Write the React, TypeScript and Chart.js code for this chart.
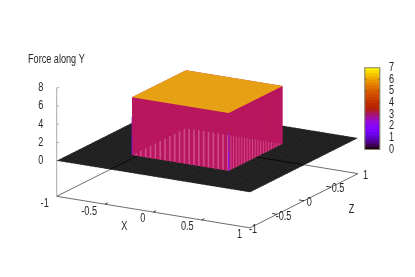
import React, { useEffect, useRef } from "react";
import { Chart, registerables } from "chart.js";

Chart.register(...registerables);

// ---- data ----
const chartTitle = "Force along Y";
const xTicks = [-1, -0.5, 0, 0.5, 1];
const zTicks = [-1, -0.5, 0, 0.5, 1];
const forceTicks = [0, 2, 4, 6, 8];
const colorTicks = [0, 1, 2, 3, 4, 5, 6, 7];
const floorForce = 0;
const plateauForce = 6.33;
const baseForce = -3.9;
const topForce = 8;
const domainMin = -1;
const domainMax = 1;
const plateauMin = -0.5;
const plateauMax = 0.5;
const plateauStations = [
  -0.5, -0.45, -0.4, -0.35, -0.3, -0.25, -0.2, -0.15, -0.1, -0.05, 0, 0.05, 0.1, 0.15, 0.2, 0.25, 0.3, 0.35,
  0.4, 0.45, 0.5,
];
const floorStations = [
  -0.95, -0.9, -0.85, -0.8, -0.75, -0.7, -0.65, -0.6, -0.55, -0.5, -0.45, -0.4, -0.35, -0.3, -0.25, -0.2, -0.15,
  -0.1, -0.05, 0, 0.05, 0.1, 0.15, 0.2, 0.25, 0.3, 0.35, 0.4, 0.45, 0.5, 0.55, 0.6, 0.65, 0.7, 0.75, 0.8, 0.85,
  0.9, 0.95,
];
const cornerSeamForce = [0, 2.2, 4.2];
const hiddenBackX = [0.43, -1];
const hiddenBackZ = [0, 1];
const paletteBands = [
  "#22001d", "#3b0054", "#4c0088", "#5a00b4", "#6601d8", "#7102f1", "#7b03fd", "#8405fd", "#8d07f1", "#940ad8",
  "#9c0db4", "#a31288", "#aa1754", "#b11d1d", "#b82300", "#be2b00", "#c43400", "#ca3e00", "#cf4a00", "#d55600",
  "#da6400", "#df7300", "#e58400", "#ea9700", "#efab00", "#f3c100", "#f8d800", "#fdf100",
];

// ---- layout and styling ----
const W = 415;
const H = 277;
const AREA_LEFT = 56.7;
const AREA_RIGHT = 383;
const AREA_TOP = 66;
const AREA_BOTTOM = 267;
const FORCE_ZERO_PX = 162;
const FORCE_PX = 9.25;
const CB_ZERO_PX = 150.7;
const CB_PX = 11.857;
const ORIGIN_X = 56.7;
const X_VEC: [number, number] = [193.3, 32];
const Z_VEC: [number, number] = [108, -55];
const CB_LEFT = 364.8;
const CB_RIGHT = 379.8;
const CB_LABEL_X = 391.5;
const FONT = '"Liberation Sans", sans-serif';
const TEXT_SQUEEZE = 0.76;
const TEXT = "#262626";
const xLabelGap = -8;
const zLabelOffsets = [-1, -1.3, 2.7, 0.7, 5];
const STRIPE_SHARE = 0.66;

type P = { x: number; y: number };

function project(x: number, z: number, force: number): P {
  const a = (x - domainMin) / (domainMax - domainMin);
  const b = (z - domainMin) / (domainMax - domainMin);
  return {
    x: ORIGIN_X + a * X_VEC[0] + b * Z_VEC[0],
    y: force - (a * X_VEC[1] + b * Z_VEC[1]) / FORCE_PX,
  };
}

function area(points: P[], color: string, yAxisID = "y") {
  return {
    data: [...points, points[0]],
    showLine: true,
    fill: "shape",
    backgroundColor: color,
    borderColor: color,
    borderWidth: 0,
    pointRadius: 0,
    tension: 0,
    clip: false,
    yAxisID,
  };
}

function stroke(points: P[], color: string, width = 1, yAxisID = "y") {
  return {
    data: points,
    showLine: true,
    fill: false,
    borderColor: color,
    borderWidth: width,
    pointRadius: 0,
    tension: 0,
    clip: false,
    yAxisID,
  };
}

function buildDatasets() {
  const out: any[] = [];
  const lo = plateauMin;
  const hi = plateauMax;
  const dMin = domainMin;
  const dMax = domainMax;
  const lineGray = "#5c5c5c";

  // base frame
  out.push(stroke([project(dMin, dMin, baseForce), project(dMin, dMax, baseForce), project(dMax, dMax, baseForce)], lineGray, 0.9));
  out.push(stroke([project(dMin, dMin, baseForce), project(dMax, dMin, baseForce), project(dMax, dMax, baseForce)], lineGray, 0.9));
  // vertical force axis
  const axisPx = (v: number) => project(dMin, dMin, v);
  out.push(stroke([axisPx(baseForce), axisPx(topForce)], "#a8a8a8", 1));
  forceTicks.forEach((v) => {
    const p = project(dMin, dMin, v);
    out.push(stroke([{ x: p.x, y: v }, { x: p.x + 2.5, y: v }], "#999", 0.8));
  });
  // ticks on the base axes
  xTicks.slice(1, -1).forEach((v) => {
    out.push(stroke([project(v, dMin, baseForce), project(v, dMin + 0.05, baseForce)], "#222", 0.9));
  });
  zTicks.slice(1, -1).forEach((v) => {
    out.push(stroke([project(dMax, v, baseForce), project(dMax - 0.05, v, baseForce)], "#222", 0.9));
  });

  // floor of the surface with its mesh
  out.push(area([project(dMin, dMin, floorForce), project(dMax, dMin, floorForce), project(dMax, dMax, floorForce), project(dMin, dMax, floorForce)], "#2a2a2a"));
  floorStations.forEach((s) => {
    out.push(stroke([project(s, dMin, floorForce), project(s, dMax, floorForce)], "#191919", 0.6));
    out.push(stroke([project(dMin, s, floorForce), project(dMax, s, floorForce)], "#191919", 0.6));
  });
  // base edges that show through the surface
  out.push(stroke([project(dMin, hiddenBackZ[0], baseForce), project(dMin, hiddenBackZ[1], baseForce)], "#050505", 0.9));
  out.push(stroke([project(hiddenBackX[0], dMax, baseForce), project(hiddenBackX[1], dMax, baseForce)], "#050505", 0.9));

  const wall = "#b8165e";
  // back walls
  out.push(area([project(lo, lo, floorForce), project(lo, hi, floorForce), project(lo, hi, plateauForce), project(lo, lo, plateauForce)], wall));
  out.push(area([project(lo, hi, floorForce), project(hi, hi, floorForce), project(hi, hi, plateauForce), project(lo, hi, plateauForce)], wall));
  // floor under the plateau, seen between the wall facets
  out.push(area([project(lo, lo, floorForce), project(hi, lo, floorForce), project(hi, hi, floorForce), project(lo, hi, floorForce)], "#cf4a8c"));
  // front walls as separate facets
  plateauStations.slice(0, -1).forEach((s, i) => {
    const e = s + (plateauStations[i + 1] - s) * STRIPE_SHARE;
    out.push(area([project(s, lo, floorForce), project(e, lo, floorForce), project(e, lo, plateauForce), project(s, lo, plateauForce)], wall));
    out.push(area([project(hi, s, floorForce), project(hi, e, floorForce), project(hi, e, plateauForce), project(hi, s, plateauForce)], wall));
  });
  // steep seams at the corners
  [hi, lo].forEach((cx, k) => {
    out.push(stroke([project(cx, lo, cornerSeamForce[0]), project(cx, lo, cornerSeamForce[1])], "#8a14e6", k === 0 ? 1.3 : 0.8));
    out.push(stroke([project(cx, lo, cornerSeamForce[1]), project(cx, lo, cornerSeamForce[2])], "#9a18a8", k === 0 ? 1.3 : 0.8));
  });
  // plateau with its mesh
  out.push(area([project(lo, lo, plateauForce), project(hi, lo, plateauForce), project(hi, hi, plateauForce), project(lo, hi, plateauForce)], "#eba717"));
  plateauStations.slice(1, -1).forEach((s) => {
    out.push(stroke([project(s, lo, plateauForce), project(s, hi, plateauForce)], "rgba(205,130,10,0.35)", 0.6));
    out.push(stroke([project(lo, s, plateauForce), project(hi, s, plateauForce)], "rgba(205,130,10,0.35)", 0.6));
  });

  // colour box
  const n = paletteBands.length;
  const cbMax = colorTicks[colorTicks.length - 1];
  const cbMin = colorTicks[0];
  paletteBands.forEach((c, i) => {
    const v0 = cbMin + (i * (cbMax - cbMin)) / n;
    const v1 = cbMin + ((i + 1) * (cbMax - cbMin)) / n;
    const lap = i === n - 1 ? 0 : 0.1;
    out.push(area([{ x: CB_LEFT, y: v0 }, { x: CB_RIGHT, y: v0 }, { x: CB_RIGHT, y: v1 + lap }, { x: CB_LEFT, y: v1 + lap }], c, "cb"));
  });
  out.push(stroke([{ x: CB_LEFT, y: cbMin }, { x: CB_RIGHT, y: cbMin }, { x: CB_RIGHT, y: cbMax }, { x: CB_LEFT, y: cbMax }, { x: CB_LEFT, y: cbMin }], "#85856c", 1.1, "cb"));
  colorTicks.slice(1, -1).forEach((v) => {
    out.push(stroke([{ x: CB_LEFT, y: v }, { x: CB_LEFT + 2, y: v }], "rgba(50,50,50,0.6)", 0.6, "cb"));
    out.push(stroke([{ x: CB_RIGHT - 2, y: v }, { x: CB_RIGHT, y: v }], "rgba(50,50,50,0.6)", 0.6, "cb"));
  });

  // Chart.js paints the first dataset last.
  return out.reverse();
}

const axisText = {
  id: "axisText",
  afterDraw(chart: any) {
    const { ctx, scales } = chart;
    const toPx = (p: P) => ({ x: scales.x.getPixelForValue(p.x), y: scales.y.getPixelForValue(p.y) });
    ctx.save();
    ctx.fillStyle = TEXT;
    ctx.font = `12px ${FONT}`;
    ctx.textBaseline = "middle";
    ctx.textAlign = "right";
    xTicks.forEach((v) => {
      const p = toPx(project(v, domainMin, baseForce));
      ctx.fillText(String(v), p.x + xLabelGap, p.y + 7);
    });
    ctx.textAlign = "left";
    zTicks.forEach((v, i) => {
      const p = toPx(project(domainMax, v, baseForce));
      ctx.fillText(String(v), p.x + zLabelOffsets[i], p.y + 2);
    });
    ctx.textAlign = "center";
    const xName = toPx(project(0, domainMin, baseForce));
    ctx.fillText("X", xName.x - 29, xName.y + 14.5);
    const zName = toPx(project(domainMax, 0, baseForce));
    ctx.fillText("Z", zName.x + 47.5, zName.y + 8.5);
    colorTicks.forEach((v) => {
      ctx.fillText(String(v), CB_LABEL_X, scales.cb.getPixelForValue(v));
    });
    ctx.restore();
  },
};

// The reference's lettering is horizontally condensed: every text call is squeezed round its anchor.
function condenseText(canvas: HTMLCanvasElement) {
  const ctx: any = canvas.getContext("2d");
  const original = ctx.fillText.bind(ctx);
  ctx.fillText = (t: string, x: number, y: number, maxWidth?: number) => {
    ctx.save();
    ctx.translate(x, y);
    ctx.scale(TEXT_SQUEEZE, 1);
    if (maxWidth === undefined) original(t, 0, 0);
    else original(t, 0, 0, maxWidth / TEXT_SQUEEZE);
    ctx.restore();
  };
}

export default function App() {
  const ref = useRef<HTMLCanvasElement | null>(null);
  useEffect(() => {
    if (!ref.current) return;
    condenseText(ref.current);
    const chart = new Chart(ref.current, {
      type: "scatter",
      data: { datasets: buildDatasets() },
      plugins: [axisText],
      options: {
        animation: false,
        responsive: false,
        events: [],
        layout: { padding: { left: 28, right: W - AREA_RIGHT - 12, top: 0, bottom: H - AREA_BOTTOM } },
        plugins: {
          legend: { display: false },
          tooltip: { enabled: false },
          title: {
            display: true,
            text: chartTitle,
            align: "start",
            color: TEXT,
            font: { family: FONT, size: 12, weight: "normal", lineHeight: 1 },
            padding: { top: AREA_TOP - 12, bottom: 0 },
          },
        },
        scales: {
          x: { type: "linear", display: false, min: AREA_LEFT, max: AREA_RIGHT },
          y: {
            type: "linear",
            position: "left",
            min: -(AREA_BOTTOM - FORCE_ZERO_PX) / FORCE_PX,
            max: (FORCE_ZERO_PX - AREA_TOP) / FORCE_PX,
            afterBuildTicks: (s: any) => {
              s.ticks = forceTicks.map((value) => ({ value }));
            },
            afterFit: (s: any) => {
              s.width = AREA_LEFT - 28;
            },
            grid: { display: false },
            border: { display: false },
            ticks: { autoSkip: false, color: TEXT, padding: 5.5, font: { family: FONT, size: 12 }, callback: (v: any) => String(v) },
          },
          cb: {
            type: "linear",
            position: "right",
            min: -(AREA_BOTTOM - CB_ZERO_PX) / CB_PX,
            max: (CB_ZERO_PX - AREA_TOP) / CB_PX,
            afterBuildTicks: (s: any) => {
              s.ticks = colorTicks.map((value) => ({ value }));
            },
            afterFit: (s: any) => {
              s.width = 12;
            },
            grid: { display: false },
            border: { display: false },
            ticks: { display: false },
          },
        },
      } as any,
    } as any);
    return () => chart.destroy();
  }, []);
  return (
    <canvas
      ref={ref}
      width={W}
      height={H}
      style={{ position: "absolute", left: 0, top: 0, width: W, height: H, filter: "blur(0.45px)" }}
    />
  );
}
